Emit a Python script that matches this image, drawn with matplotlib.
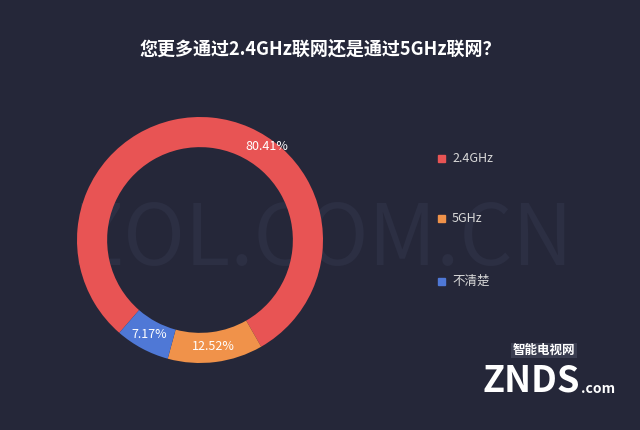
import numpy as np
import matplotlib.pyplot as plt

plt.rcParams['font.family'] = ['Noto Sans CJK SC', 'DejaVu Sans']

labels = ['2.4GHz', '5GHz', '不清楚']
values = [80.41, 12.52, 7.17]
colors = ['#e85454', '#f0924a', '#4f78d6']
bg = '#252739'

fig = plt.figure(figsize=(6.4, 4.3), dpi=100, facecolor=bg)

fig.text(0.5, 0.885, '您更多通过2.4GHz联网还是通过5GHz联网？', color='white',
         fontsize=13, fontweight='bold', ha='center', va='center')
# faint watermark
fig.text(0.505, 0.44, 'ZOL.COM.CN', color='#2c2f43', fontsize=60,
         ha='center', va='center', zorder=0)

ax = fig.add_axes([(200 - 123)/640, 1 - (240 + 123)/430, 246/640, 246/430], zorder=1)
ax.patch.set_visible(False)
wedges, _ = ax.pie(values, colors=colors, startangle=229, counterclock=False,
                   wedgeprops=dict(width=0.245, edgecolor='none'))
ax.set_xlim(-1, 1)
ax.set_ylim(-1, 1)
ax.set_aspect('equal')
pos = [(0.54, 0.76), None, None]
for w, v, p in zip(wedges, values, pos):
    ang = np.deg2rad((w.theta1 + w.theta2) / 2)
    if p is None:
        p = (0.87 * np.cos(ang), 0.87 * np.sin(ang))
    ax.text(p[0], p[1], f'{v:.2f}%', color='white', fontsize=9,
            ha='center', va='center')

for lab, col, y in zip(labels, colors, [158, 218, 281]):
    fig.patches.append(plt.Rectangle((438/640, 1 - (y + 4)/430), 7/640, 7/430,
                                     transform=fig.transFigure, color=col, zorder=2))
    fig.text(452/640, 1 - y/430, lab, color='#d8d8d8', fontsize=9, va='center', zorder=2)

fig.text(0.83, 0.115, 'ZNDS', color='white', fontsize=26, fontweight='bold',
         fontstyle='italic', ha='center', va='center', zorder=2)
fig.text(0.935, 0.095, '.com', color='white', fontsize=10, fontweight='bold',
         fontstyle='italic', ha='center', va='center', zorder=2)
fig.text(0.85, 0.185, '智能电视网', color='white', fontsize=9, fontweight='bold',
         ha='center', va='center', zorder=2,
         bbox=dict(facecolor='#3a3d50', edgecolor='none', pad=1))

fig.savefig('out.png', dpi=100, facecolor=bg)
